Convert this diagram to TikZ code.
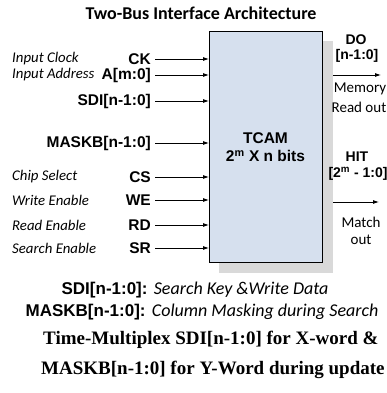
\documentclass[tikz,border=0pt]{standalone}
\usepackage{fontspec}
\setmainfont{Liberation Serif}
\setsansfont{Liberation Sans}
\newfontfamily\calibri{Carlito}
\usetikzlibrary{arrows.meta}
\definecolor{boxfill}{RGB}{214,224,238}
\definecolor{shadowgray}{RGB}{217,217,217}
\tikzset{
  sig/.style={font=\sffamily\bfseries\fontsize{15.5}{17}\selectfont, anchor=east, inner sep=0pt},
  desc/.style={font=\calibri\itshape\fontsize{14.8}{17}\selectfont, anchor=west, inner sep=0pt},
  outlbl/.style={font=\sffamily\bfseries\fontsize{14}{16}\selectfont, inner sep=0pt},
  outdesc/.style={font=\calibri\fontsize{15}{17}\selectfont, inner sep=0pt},
  bus/.style={-{Latex[length=6pt,width=4pt]}, line width=0.8pt},
  note/.style={font=\bfseries\fontsize{19}{21}\selectfont, anchor=west, inner sep=0pt},
}
\newcommand{\sigfont}{\sffamily\bfseries\fontsize{17}{19}\selectfont}
\newcommand{\notefont}{\calibri\mdseries\itshape\fontsize{18}{20}\selectfont}
\begin{document}
\begin{tikzpicture}[x=1pt,y=-1pt]
\useasboundingbox (0,0) rectangle (387,393);
% title
\node[font=\calibri\bfseries\fontsize{18}{20}\selectfont] (title) at (201,13) {Two-Bus Interface Architecture};
% shadow and TCAM block
\fill[shadowgray] (219,41) rectangle (333,273);
\node[draw, line width=1.4pt, fill=boxfill, minimum width=113pt, minimum height=231pt, anchor=north west] (tcam) at (209,31) {};
\node[font=\sffamily\bfseries\fontsize{15.5}{17}\selectfont, align=center, inner sep=0pt] (tcamlbl) at (265.5,147) {TCAM\\[1pt]2\textsuperscript{m} X n bits};
% input signals
\foreach \nm/\lbl/\y in {ck/CK/59, addr/A[m:0]/75, sdi/SDI[n-1:0]/101, mask/MASKB[n-1:0]/143,
                         cs/CS/177, we/WE/200, rd/RD/225, sr/SR/248}{
  \node[sig] (\nm) at (151,\y) {\lbl};
  \coordinate (\nm-in) at (tcam.west |- 0,\y);
  \draw[bus] ([xshift=4pt]\nm.east) -- (\nm-in);
}
% descriptions of the control inputs
\node[desc] (dck) at (12,59) {Input Clock};
\node[desc] (daddr) at (12,75) {Input Address};
\node[desc] (dcs) at (12,177) {Chip Select};
\node[desc] (dwe) at (12,200) {Write Enable};
\node[desc] (drd) at (12,225) {Read Enable};
\node[desc] (dsr) at (12,248) {Search Enable};
% outputs
\node[outlbl] (do) at (356,40) {DO};
\node[outlbl] (dob) at (357,56) {[n-1:0]};
\coordinate (doa) at (333,75);
\coordinate (dob-end) at (381,75);
\draw[bus] (doa) -- (dob-end);
\node[outdesc] (mem) at (360,89) {Memory};
\node[outdesc] (rdo) at (359,107) {Read out};
\node[outlbl] (hit) at (357,157) {HIT};
\node[outlbl] (hitb) at (358,174) {[2\textsuperscript{m} - 1:0]};
\coordinate (hita) at (333,202);
\coordinate (hit-end) at (379,202);
\draw[bus] (hita) -- (hit-end);
\node[outdesc] (match) at (361,222) {Match};
\node[outdesc] (mout) at (361,240) {out};
% notes
\node[inner sep=0pt] (n1) at (195,290) {\sigfont SDI[n-1:0]: \notefont Search Key \&Write Data};
\node[inner sep=0pt] (n2) at (202,312) {\sigfont MASKB[n-1:0]: \notefont Column Masking during Search};
\node[note] (n3) at (43,340) {Time-Multiplex SDI[n-1:0] for X-word \&};
\node[note] (n4) at (41,370) {MASKB[n-1:0] for Y-Word during update};
\end{tikzpicture}
\end{document}
